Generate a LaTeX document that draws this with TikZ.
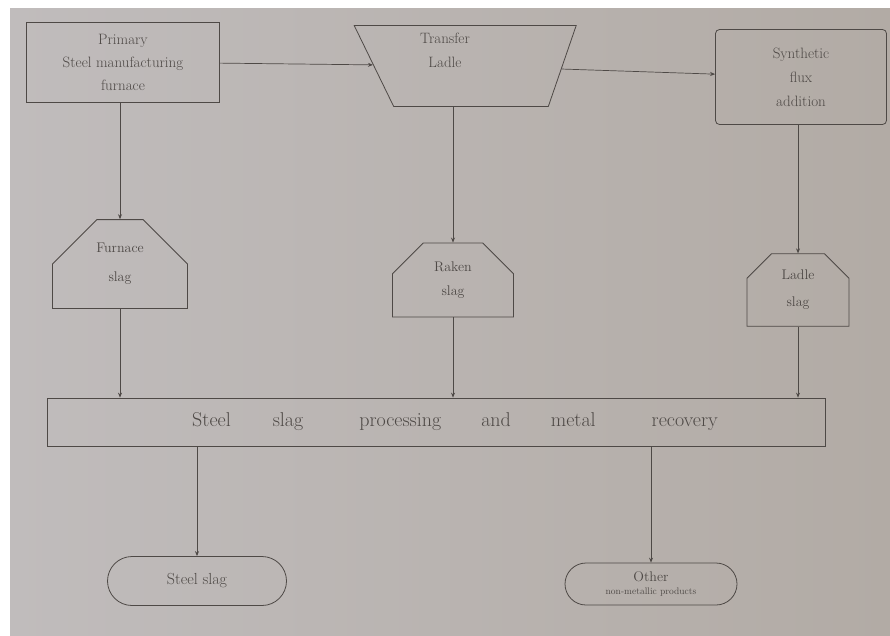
\documentclass[tikz,border=0pt]{standalone}
\usepackage{fontspec}
\usetikzlibrary{shapes.geometric,shapes.misc,arrows.meta}
\definecolor{paperL}{RGB}{192,188,188}
\definecolor{paperM}{RGB}{216,214,218}
\definecolor{paperR}{RGB}{178,171,165}
\definecolor{ink}{RGB}{78,73,70}
\begin{document}
\begin{tikzpicture}[x=1pt,y=-1pt,
  every node/.style={draw=ink,line width=0.8pt,text=ink,inner sep=0pt,align=center,font=\fontsize{15}{23}\selectfont},
  plain/.style={draw=none},
  arr/.style={draw=ink,line width=0.7pt,-{Stealth[length=5pt,width=4pt]}},
  boxA/.style={rectangle},
  slagbox/.style={chamfered rectangle,chamfered rectangle corners={north west,north east}},
  endbox/.style={rounded rectangle}
]
\useasboundingbox (0,0) rectangle (890,635);
\fill[white] (0,0) rectangle (890,635);
\shade[left color=paperL,middle color=paperM,right color=paperR] (10,8) rectangle (890,635);
% top row
\node[boxA,minimum width=193,minimum height=80] (primary) at (123,62)
  {Primary\\ Steel manufacturing\\ furnace};
\node[trapezium,shape border rotate=180,trapezium left angle=71,trapezium right angle=64,
  trapezium stretches body,minimum width=222] (ladle) at (471,66) {\rule{0pt}{81pt}};
\node[plain,font=\fontsize{15}{24}\selectfont] (ladletxt) at (445,50) {Transfer\\ Ladle};
\node[rectangle,rounded corners=4pt,minimum width=171,minimum height=95,font=\fontsize{15}{24}\selectfont] (flux) at (801,77)
  {Synthetic\\ flux\\ addition};
% slag row
\node[slagbox,chamfered rectangle xsep=32pt,chamfered rectangle ysep=38pt,minimum width=135,minimum height=76,font=\fontsize{14}{29}\selectfont] (fslag) at (120,264)
  {Furnace\\ slag};
\node[slagbox,chamfered rectangle xsep=12pt,chamfered rectangle ysep=25pt,minimum width=121,minimum height=69,font=\fontsize{14}{24}\selectfont] (raken) at (453,280)
  {Raken\\ slag};
\node[slagbox,chamfered rectangle xsep=8pt,chamfered rectangle ysep=25pt,minimum width=102,minimum height=65,font=\fontsize{14}{27}\selectfont] (lslag) at (798,290)
  {Ladle\\ slag};
% processing
\node[rectangle,minimum width=778,minimum height=48,font=\fontsize{20}{22}\selectfont] (main) at (436,422)
  {\hspace{38pt}Steel\hspace{42pt}slag\hspace{56pt}processing\hspace{40pt}and\hspace{40pt}metal\hspace{56pt}recovery};
% products
\node[endbox,minimum width=179,minimum height=49,font=\fontsize{16}{18}\selectfont] (sslag) at (197,581) {Steel slag};
\node[endbox,minimum width=172,minimum height=42,font=\fontsize{9.5}{13}\selectfont] (other) at (651,584)
  {\fontsize{14}{14}\selectfont Other\\ non-metallic products};
% connectors
\draw[arr] (primary) -- (ladle);
\draw[arr] (ladle) -- (flux);
\draw[arr] (fslag.north |- primary.south) -- (fslag.north);
\draw[arr] (raken.north |- ladle.south) -- (raken.north);
\draw[arr] (lslag.north |- flux.south) -- (lslag.north);
\draw[arr] (fslag.south) -- (fslag.south |- main.north);
\draw[arr] (raken.south) -- (raken.south |- main.north);
\draw[arr] (lslag.south) -- (lslag.south |- main.north);
\draw[arr] (main.south -| sslag.north) -- (sslag.north);
\draw[arr] (main.south -| other.north) -- (other.north);
\end{tikzpicture}
\end{document}
